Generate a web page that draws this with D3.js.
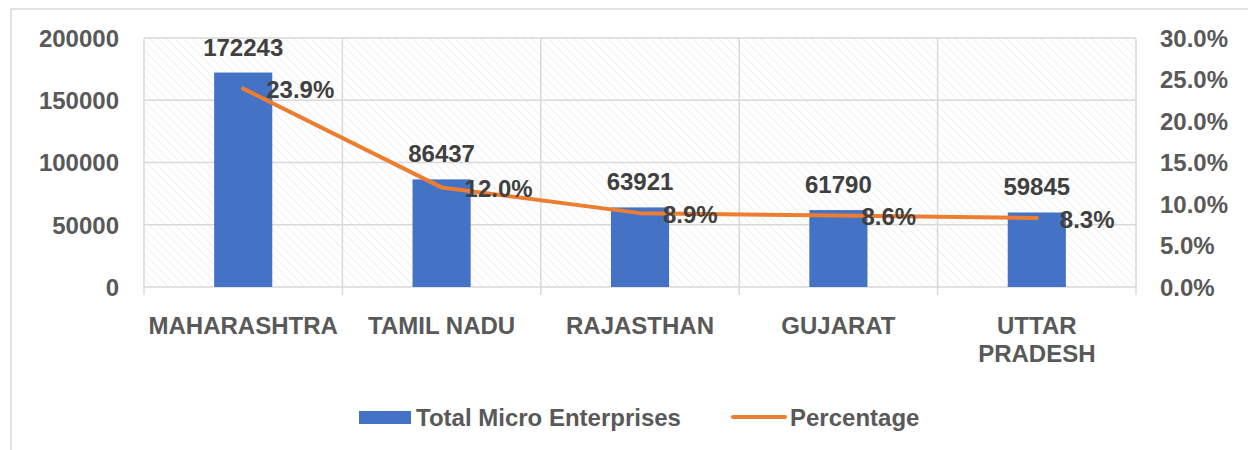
<!DOCTYPE html>
<html>
<head>
<meta charset="utf-8">
<script src="https://cdn.jsdelivr.net/npm/d3@7"></script>
<style>
  body { margin:0; background:#fff; }
  text { font-family:"Liberation Sans", Arial, sans-serif; font-weight:bold; }
</style>
</head>
<body>
<div id="plot"></div>
<script>
// data
var states = ['MAHARASHTRA','TAMIL NADU','RAJASTHAN','GUJARAT','UTTAR PRADESH'];
var totals = [172243, 86437, 63921, 61790, 59845];
var shares = [0.239, 0.120, 0.089, 0.086, 0.083];
var leftTicks = [0, 50000, 100000, 150000, 200000];
var rightTicks = [0, 0.05, 0.10, 0.15, 0.20, 0.25, 0.30];

var W = 1248, H = 450;
var m = {t:38, r:112, b:163, l:144};  // plot box 144..1136, 38..287

var svg = d3.select('#plot').append('svg')
  .attr('width', W).attr('height', H);

// hatched plot background
var defs = svg.append('defs');
defs.append('pattern')
  .attr('id','hatch')
  .attr('patternUnits','userSpaceOnUse')
  .attr('width',6).attr('height',6)
  .attr('patternTransform','rotate(-45)')
  .append('line')
  .attr('x1',0).attr('y1',0).attr('x2',0).attr('y2',6)
  .attr('stroke','#ececec').attr('stroke-width',1.6);

// outer chart border (runs off right and bottom edge)
svg.append('rect')
  .attr('x',11).attr('y',9).attr('width',W).attr('height',H)
  .attr('fill','none').attr('stroke','#d9d9d9').attr('stroke-width',1.5);

var x = d3.scaleBand().domain(states).range([m.l, W - m.r]).padding(0);
var y = d3.scaleLinear().domain([0, 200000]).range([H - m.b, m.t]);
var y2 = d3.scaleLinear().domain([0, 0.30]).range([H - m.b, m.t]);

svg.append('rect')
  .attr('x', m.l).attr('y', m.t)
  .attr('width', W - m.r - m.l).attr('height', H - m.b - m.t)
  .attr('fill','url(#hatch)');

// horizontal grid
svg.append('g').selectAll('line').data(leftTicks).join('line')
  .attr('x1', m.l).attr('x2', W - m.r)
  .attr('y1', d => y(d)).attr('y2', d => y(d))
  .attr('stroke','#d9d9d9').attr('stroke-width',1.5);

// vertical grid / category ticks
var bounds = states.map(s => x(s)).concat([x(states[states.length-1]) + x.bandwidth()]);
svg.append('g').selectAll('line').data(bounds).join('line')
  .attr('x1', d => d).attr('x2', d => d)
  .attr('y1', m.t).attr('y2', H - m.b + 8)
  .attr('stroke','#d9d9d9').attr('stroke-width',1.5);

// left axis
var yAxis = svg.append('g')
  .attr('transform','translate(' + (m.l - 25) + ',0)')
  .call(d3.axisLeft(y).tickValues(leftTicks).tickSize(0).tickPadding(0).tickFormat(d3.format('d')));
yAxis.select('.domain').remove();
yAxis.selectAll('text').attr('fill','#595959').style('font-size','24px').attr('dy','0.35em');

// right axis
var y2Axis = svg.append('g')
  .attr('transform','translate(' + (W - m.r + 24) + ',0)')
  .call(d3.axisRight(y2).tickValues(rightTicks).tickSize(0).tickPadding(0).tickFormat(d3.format('.1%')));
y2Axis.select('.domain').remove();
y2Axis.selectAll('text').attr('fill','#595959').style('font-size','24px').attr('dy','0.35em');

// category labels with wrapping
var xAxis = svg.append('g')
  .attr('transform','translate(0,' + (H - m.b) + ')')
  .call(d3.axisBottom(x).tickSize(0).tickPadding(0));
xAxis.select('.domain').remove();
xAxis.selectAll('text')
  .attr('fill','#595959').style('font-size','24px')
  .attr('y', 47).attr('dy', 0)
  .each(function(d){
    var t = d3.select(this);
    if (this.getComputedTextLength() <= x.bandwidth()) return;
    var words = d.split(' ');
    t.text(null);
    words.forEach(function(w, i){
      t.append('tspan').attr('x',0).attr('y', 47 + i*28).text(w);
    });
  });

// bars
var barW = x.bandwidth() * 0.293;
svg.append('g').selectAll('rect').data(states).join('rect')
  .attr('x', (d) => x(d) + x.bandwidth()/2 - barW/2)
  .attr('y', (d,i) => y(totals[i]))
  .attr('width', barW)
  .attr('height', (d,i) => y(0) - y(totals[i]))
  .attr('fill','#4472c4');

// line
var line = d3.line()
  .x((d,i) => x(states[i]) + x.bandwidth()/2)
  .y(d => y2(d));
svg.append('path').datum(shares)
  .attr('d', line)
  .attr('fill','none').attr('stroke','#ed7d31').attr('stroke-width',4)
  .attr('stroke-linecap','round').attr('stroke-linejoin','round');

// bar value labels
svg.append('g').selectAll('text').data(states).join('text')
  .attr('x', d => x(d) + x.bandwidth()/2)
  .attr('y', (d,i) => y(totals[i]) - 17)
  .attr('text-anchor','middle')
  .attr('fill','#404040').style('font-size','24px')
  .text((d,i) => totals[i]);

// percentage labels
svg.append('g').selectAll('text').data(shares).join('text')
  .attr('x', (d,i) => x(states[i]) + x.bandwidth()/2 + 23)
  .attr('y', d => y2(d) + 1)
  .attr('dy','0.35em')
  .attr('fill','#404040').style('font-size','24px')
  .text(d => d3.format('.1%')(d));

// legend
var lg = svg.append('g');
lg.append('rect').attr('x',359).attr('y',411).attr('width',52).attr('height',13).attr('fill','#4472c4');
lg.append('text').attr('x',416).attr('y',426).attr('fill','#595959').style('font-size','24px').text('Total Micro Enterprises');
lg.append('line').attr('x1',733).attr('x2',785).attr('y1',417).attr('y2',417)
  .attr('stroke','#ed7d31').attr('stroke-width',4).attr('stroke-linecap','round');
lg.append('text').attr('x',790).attr('y',426).attr('fill','#595959').style('font-size','24px').text('Percentage');
</script>
</body>
</html>
